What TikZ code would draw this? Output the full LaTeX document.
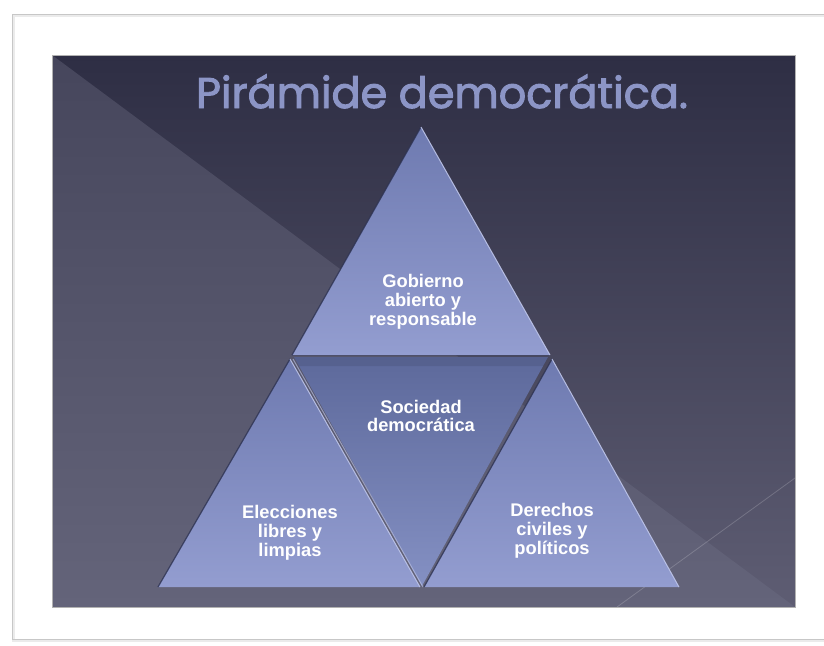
\documentclass[tikz,border=0pt]{standalone}
\usepackage{fontspec}
\setmainfont{Liberation Sans}
\newfontfamily\titlefont[FakeBold=2.2]{Poppins}
\usetikzlibrary{calc}
\definecolor{bgtop}{HTML}{2E2E44}
\definecolor{bgbot}{HTML}{5E5D73}
\definecolor{lttop}{HTML}{46465C}
\definecolor{ltbot}{HTML}{64647A}
\definecolor{tritop}{HTML}{6E7AB0}
\definecolor{tribot}{HTML}{939DD0}
\definecolor{midtop}{HTML}{5D699B}
\definecolor{midbot}{HTML}{8490C3}
\definecolor{titlec}{HTML}{8C95C6}
\definecolor{edgedark}{HTML}{2C3150}
\definecolor{edgelight}{HTML}{C3CAEE}
\tikzset{
  lbl/.style={text=white, align=center, inner sep=0pt,
    font=\fontsize{18.3}{18.8}\selectfont\bfseries},
  darkedge/.style={draw=edgedark, line width=1.2pt, opacity=0.8},
  lightedge/.style={draw=edgelight, line width=1pt, opacity=0.85},
}
\begin{document}
\begin{tikzpicture}[x=1pt,y=-1pt]
\useasboundingbox (0,0) rectangle (824,645);
\fill[white] (0,0) rectangle (824,645);
% outer frame
\draw[black!8, line width=3pt] (13,15) rectangle (850,640);
\draw[black!22, line width=1pt] (12,14) rectangle (850,639);
% slide
\coordinate (TL) at (52,55);
\coordinate (TR) at (795,55);
\coordinate (BR) at (795,607);
\coordinate (BL) at (52,607);
\shade[top color=bgtop, bottom color=bgbot] (TL) rectangle (BR);
\shade[top color=lttop, bottom color=ltbot] (TL) -- (BR) -- (BL) -- cycle;
\draw[white, opacity=0.18, line width=0.8pt] (795,478) -- (617,607);
\draw[black!30, line width=0.6pt] (TL) rectangle (BR);
% title
\node[anchor=base, text=titlec, inner sep=0pt,
  font=\titlefont\fontsize{43}{48}\selectfont] (title) at (442,108) {Pirámide democrática.};
% pyramid coordinates
\coordinate (A) at (421,127);
\coordinate (T1L) at (292,355);
\coordinate (T1R) at (550,355);
\coordinate (L1) at (158,587);
\coordinate (L2) at (290,359);
\coordinate (L3) at (420,587);
\coordinate (R1) at (424,587);
\coordinate (R2) at (552,359);
\coordinate (R3) at (679,587);
\coordinate (M1) at (294,357);
\coordinate (M2) at (548,357);
\coordinate (M3) at (422,586);
% triangles
\shade[top color=midtop, bottom color=midbot] (M1) -- (M2) -- (M3) -- cycle;
\shade[top color=tritop, bottom color=tribot] (A) -- (T1R) -- (T1L) -- cycle;
\shade[top color=tritop, bottom color=tribot] (L2) -- (L3) -- (L1) -- cycle;
\shade[top color=tritop, bottom color=tribot] (R2) -- (R3) -- (R1) -- cycle;
% shadow band under top triangle
\fill[black, opacity=0.08] (M1) -- (M2) -- ($(M2)!0.04!(M3)$) -- ($(M1)!0.04!(M3)$) -- cycle;
% edges
\draw[darkedge] (T1L) -- (A);
\draw[lightedge] (A) -- (T1R);
\draw[darkedge] (L1) -- (L2);
\draw[lightedge] (L2) -- (L3);
\draw[lightedge, opacity=0.6] ($(L2)+(3,0)$) -- ($(L3)+(3,0)$);
\draw[darkedge] (R1) -- (R2);
\draw[lightedge] (R2) -- (R3);
\draw[edgedark, opacity=0.3, line width=1pt] (T1L) -- (T1R);
% labels
\node[lbl] (gob) at (423,302) {Gobierno\\abierto y\\responsable};
\node[lbl] (soc) at (421,416) {Sociedad\\democrática};
\node[lbl] (ele) at (290,533) {Elecciones\\libres y\\limpias};
\node[lbl] (der) at (552,531) {Derechos\\civiles y\\políticos};
\end{tikzpicture}
\end{document}
